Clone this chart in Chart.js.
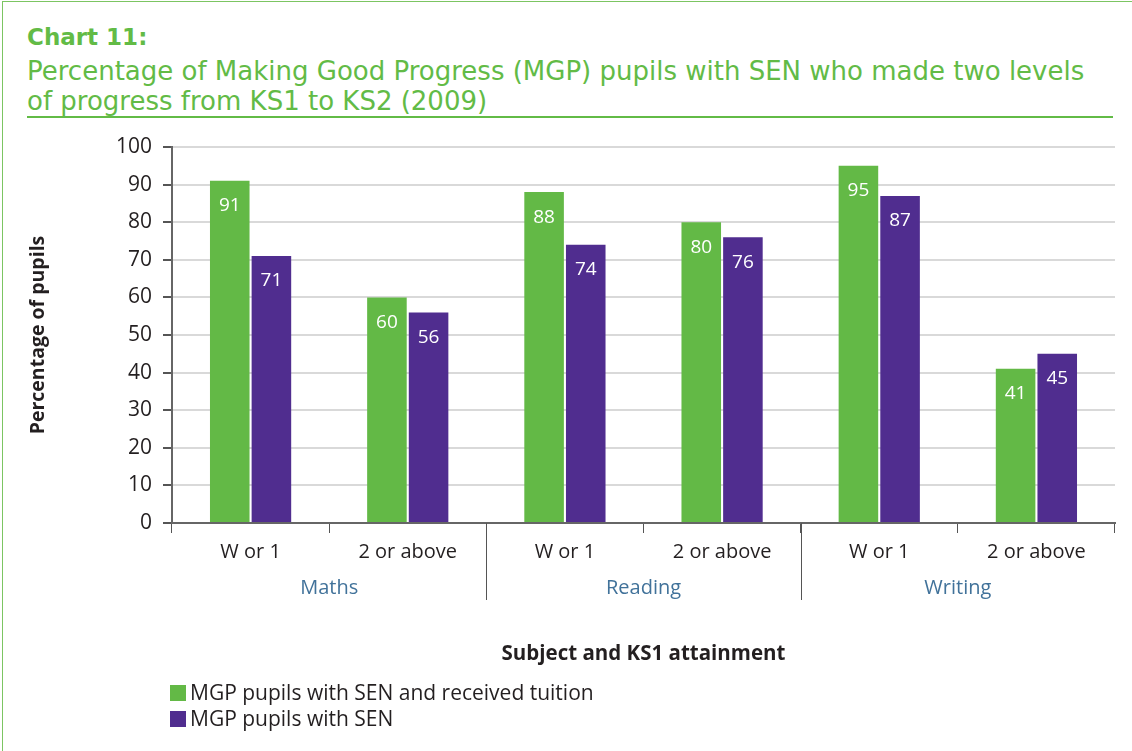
<!DOCTYPE html>
<html>
<head>
<meta charset="utf-8">
<script src="https://cdn.jsdelivr.net/npm/chart.js@4/dist/chart.umd.min.js"></script>
<style>
    body { margin: 0; background: #fff; }
    #frame { position: absolute; left: 2px; top: 1px; width: 1140px; height: 760px;
             border-left: 1.5px solid #7cc562; border-top: 1.5px solid #7cc562; }
    #head { position: absolute; left: 27px; top: 22px; width: 1086px; color: #62bb46;
            font-family: "DejaVu Sans", sans-serif; }
    #head .num { font-weight: bold; font-size: 23px; line-height: 30px; margin-bottom: 4px; }
    #head .sub { font-size: 26px; line-height: 30px; border-bottom: 2px solid #62bb46; padding-bottom: 0px; }
    #wrap { position: absolute; left: 0; top: 120px; width: 1132px; height: 560px; }
    #legend { position: absolute; left: 170px; top: 679px; font-family: "Open Sans", sans-serif;
              font-size: 21px; color: #231f20; }
    #legend div { height: 26px; line-height: 26px; }
    #legend span.box { display: inline-block; width: 16px; height: 16px; margin-right: 4px; vertical-align: -1px; }
</style>
</head>
<body>
<div id="frame"></div>
<div id="head">
    <div class="num">Chart 11:</div>
    <div class="sub">Percentage of Making Good Progress (MGP) pupils with SEN who made two levels<br>of progress from KS1 to KS2 (2009)</div>
</div>
<div id="wrap"><canvas id="chart11"></canvas></div>
<div id="legend"></div>

<script>
    //================================================================ Data ===============

    var categories = ['W or 1', '2 or above', 'W or 1', '2 or above', 'W or 1', '2 or above'];
    var subjects = ['Maths', 'Reading', 'Writing'];
    var tuitionValues = [91, 60, 88, 80, 95, 41];
    var senValues = [71, 56, 74, 76, 87, 45];
    var seriesNames = ['MGP pupils with SEN and received tuition', 'MGP pupils with SEN'];
    var seriesColours = ['#63b946', '#502d8f'];

    var fontFamily = '"Open Sans", sans-serif';
    var textColour = '#231f20';

    //================================================================ Plugins ============

    // white value labels just under the top of each bar
    var barLabels = {
        id: 'barLabels',
        afterDatasetsDraw: function(chart) {
            var ctx = chart.ctx;
            ctx.save();
            ctx.fillStyle = '#ffffff';
            ctx.font = '19px ' + fontFamily;
            ctx.textAlign = 'center';
            ctx.textBaseline = 'middle';
            chart.data.datasets.forEach(function(ds, i) {
                chart.getDatasetMeta(i).data.forEach(function(bar, j) {
                    ctx.fillText(ds.data[j], bar.x, bar.y + 25);
                });
            });
            ctx.restore();
        }
    };

    // long separators between the subject groups
    var groupLines = {
        id: 'groupLines',
        afterDraw: function(chart) {
            var x = chart.scales.x;
            var ctx = chart.ctx;
            ctx.save();
            ctx.strokeStyle = '#555555';
            ctx.lineWidth = 1;
            for (var g = 1; g < subjects.length; g++) {
                var px = Math.round((x.getPixelForValue(g * 2 - 1) + x.getPixelForValue(g * 2)) / 2) + 0.5;
                ctx.beginPath();
                ctx.moveTo(px, x.top);
                ctx.lineTo(px, x.top + 77);
                ctx.stroke();
            }
            ctx.restore();
        }
    };

    //================================================================ Chart ==============

    var chrt = document.getElementById('chart11').getContext('2d');
    var config = {
        type: 'bar',
        data: {
            labels: categories,
            datasets: [{
                label: seriesNames[0],
                data: tuitionValues,
                backgroundColor: seriesColours[0]
            }, {
                label: seriesNames[1],
                data: senValues,
                backgroundColor: seriesColours[1]
            }]
        },
        options: {
            responsive: true,
            maintainAspectRatio: false,
            animation: false,
            categoryPercentage: 0.53,
            barPercentage: 0.95,
            layout: { padding: { top: 27, right: 17, bottom: 10, left: 0 } },
            plugins: {
                legend: { display: false },
                tooltip: { enabled: false }
            },
            scales: {
                x: {
                    weight: 0,
                    grid: { offset: true, drawOnChartArea: false, tickLength: 10, tickColor: '#555555' },
                    border: { color: '#666666', width: 2 },
                    ticks: { color: textColour, font: { family: fontFamily, size: 20 }, padding: 7, maxRotation: 0 },
                    afterFit: function(s) { s.height = 47; }
                },
                x2: {
                    type: 'category',
                    position: 'bottom',
                    weight: 1,
                    labels: subjects,
                    grid: { display: false, drawTicks: false, tickLength: 0 },
                    border: { display: false },
                    ticks: { color: '#41729a', font: { family: fontFamily, size: 20 }, padding: 6, maxRotation: 0 },
                    title: {
                        display: true,
                        text: 'Subject and KS1 attainment',
                        color: textColour,
                        font: { family: fontFamily, size: 20.5, weight: 'bold' },
                        padding: { top: 0, bottom: 4 }
                    },
                    afterFit: function(s) { s.height = 100; }
                },
                y: {
                    min: 0,
                    max: 100,
                    ticks: { stepSize: 10, color: textColour, font: { family: fontFamily, size: 21 }, padding: 11 },
                    grid: { color: '#d9d9d9', lineWidth: 2, tickLength: 9, tickColor: '#555555' },
                    border: { color: '#666666', width: 2 },
                    title: {
                        display: true,
                        text: 'Percentage of pupils',
                        color: textColour,
                        font: { family: fontFamily, size: 19.5, weight: 'bold' },
                        padding: { top: 27, bottom: 0 }
                    },
                    afterFit: function(s) { s.width = 172; }
                }
            }
        },
        plugins: [barLabels, groupLines]
    };

    var chart11 = new Chart(chrt, config);

    // legend, one row per series
    var legendHtml = '';
    for (var i in seriesNames) {
        legendHtml += '<div><span class="box" style="background:' + seriesColours[i] + '"></span>' + seriesNames[i] + '</div>';
    }
    document.getElementById('legend').innerHTML = legendHtml;
</script>
</body>
</html>
